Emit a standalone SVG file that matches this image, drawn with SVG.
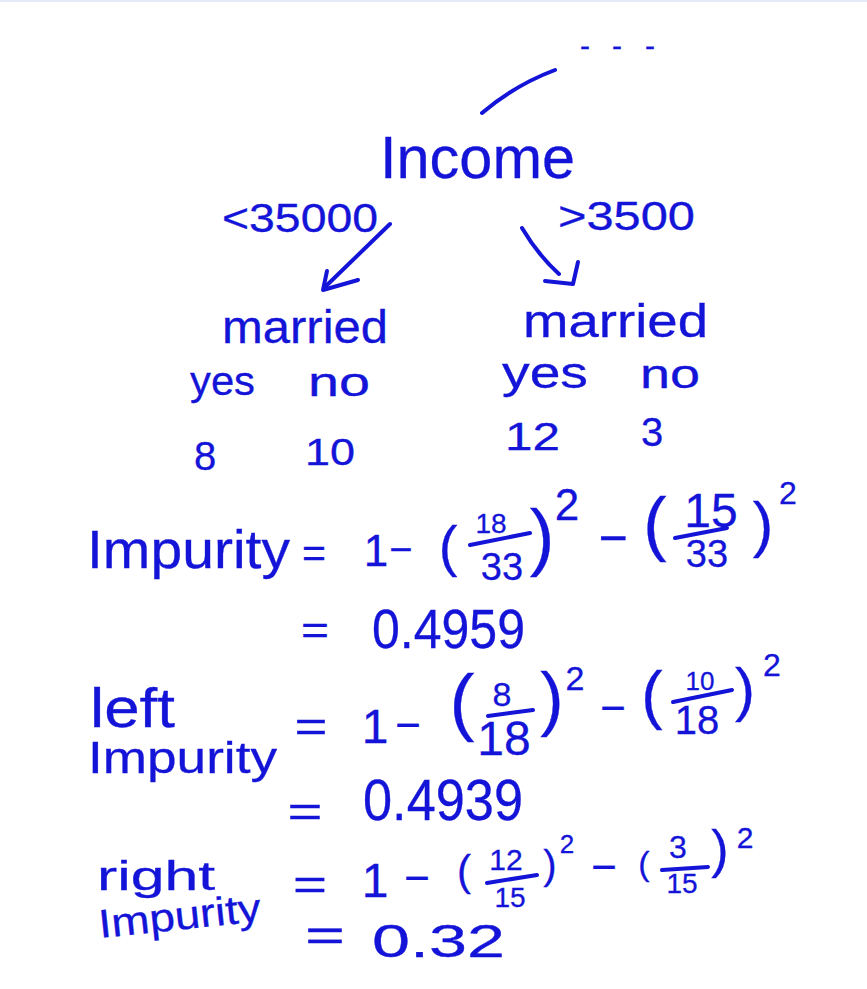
<svg xmlns="http://www.w3.org/2000/svg" width="867" height="989" viewBox="0 0 867 989">
<style>
.t{font-family:"Liberation Sans",Arial,sans-serif;fill:#1414d8;stroke:#1414d8;stroke-width:0.3}
.m{text-anchor:middle}
.ln{fill:none;stroke:#1414d8;stroke-width:4;stroke-linecap:round;stroke-linejoin:round}
</style>
<rect x="0" y="0" width="867" height="989" fill="#ffffff"/>
<rect x="0" y="0" width="867" height="2" fill="#e6eaf8"/>

<g id="dots">
<text class="t m" x="585 617 650" y="56" font-size="30">---</text>
</g>

<g id="income">
<text class="t" x="380" y="178" font-size="60" textLength="195" lengthAdjust="spacingAndGlyphs">Income</text>
</g>

<g id="branch-labels">
<text class="t" x="222" y="232" font-size="40" textLength="156" lengthAdjust="spacingAndGlyphs">&lt;35000</text>
<text class="t" x="558" y="230" font-size="40" textLength="137" lengthAdjust="spacingAndGlyphs">&gt;3500</text>
</g>

<g id="married-left">
<text class="t" x="222" y="343" font-size="46" textLength="166" lengthAdjust="spacingAndGlyphs">married</text>
<text class="t" x="190" y="395" font-size="40" textLength="65" lengthAdjust="spacingAndGlyphs">yes</text>
<text class="t" x="308" y="396" font-size="40" textLength="62" lengthAdjust="spacingAndGlyphs">no</text>
<text class="t m" x="205" y="470" font-size="40">8</text>
<text class="t" x="305" y="465" font-size="36" textLength="50" lengthAdjust="spacingAndGlyphs">10</text>
</g>

<g id="married-right">
<text class="t" x="523" y="337" font-size="46" textLength="185" lengthAdjust="spacingAndGlyphs">married</text>
<text class="t" x="502" y="388" font-size="44" textLength="86" lengthAdjust="spacingAndGlyphs">yes</text>
<text class="t" x="640" y="388" font-size="40" textLength="60" lengthAdjust="spacingAndGlyphs">no</text>
<text class="t" x="505" y="450" font-size="38" textLength="55" lengthAdjust="spacingAndGlyphs">12</text>
<text class="t m" x="652" y="446" font-size="40">3</text>
</g>

<g id="connectors">
<path class="ln" d="M482,113 Q515,85 555,70"/>
<path class="ln" d="M390,224 Q357,256 325,287"/>
<path class="ln" d="M327,271 L323,290 L358,280"/>
<path class="ln" d="M522,228 Q538,255 559,274"/>
<path class="ln" d="M578,262 L573,284 L545,281"/>
</g>

<g id="impurity">
<text class="t" x="87" y="568" font-size="54" textLength="203" lengthAdjust="spacingAndGlyphs">Impurity</text>
<text class="t m" x="314" y="567" font-size="40" textLength="24" lengthAdjust="spacingAndGlyphs">=</text>
<text class="t m" x="376" y="566" font-size="44">1</text>
<text class="t m" x="401" y="563" font-size="40">−</text>
<text class="t m" x="448" y="565" font-size="56">(</text>
<text class="t m" x="491" y="533" font-size="28">18</text>
<line class="ln" x1="470" y1="545" x2="530" y2="533"/>
<text class="t m" x="502" y="580" font-size="38">33</text>
<text class="t m" x="542" y="562" font-size="74">)</text>
<text class="t m" x="567" y="520" font-size="44">2</text>
<text class="t m" x="613" y="555" font-size="50">−</text>
<text class="t m" x="655" y="547" font-size="70">(</text>
<text class="t m" x="711" y="527" font-size="48">15</text>
<line class="ln" x1="675" y1="538" x2="727" y2="528"/>
<text class="t m" x="707" y="567" font-size="38">33</text>
<text class="t m" x="763" y="545" font-size="62">)</text>
<text class="t m" x="788" y="504" font-size="32">2</text>
<text class="t m" x="315" y="644" font-size="40" textLength="28" lengthAdjust="spacingAndGlyphs">=</text>
<text class="t" x="372" y="648" font-size="56" textLength="153" lengthAdjust="spacingAndGlyphs">0.4959</text>
</g>

<g id="left-impurity">
<text class="t" x="90" y="727" font-size="56" textLength="85" lengthAdjust="spacingAndGlyphs">left</text>
<text class="t" x="88" y="773" font-size="44" textLength="189" lengthAdjust="spacingAndGlyphs">Impurity</text>
<text class="t m" x="311" y="741" font-size="42" textLength="33" lengthAdjust="spacingAndGlyphs">=</text>
<text class="t m" x="375" y="743" font-size="48">1</text>
<text class="t m" x="408" y="740" font-size="44">−</text>
<text class="t m" x="462" y="727" font-size="75">(</text>
<text class="t m" x="502" y="706" font-size="34">8</text>
<line class="ln" x1="488" y1="716" x2="533" y2="710"/>
<text class="t m" x="504" y="755" font-size="48">18</text>
<text class="t m" x="552" y="722" font-size="70">)</text>
<text class="t m" x="575" y="690" font-size="34">2</text>
<text class="t m" x="613" y="723" font-size="44">−</text>
<text class="t m" x="652" y="717" font-size="64">(</text>
<text class="t m" x="700" y="690" font-size="26">10</text>
<line class="ln" x1="673" y1="702" x2="732" y2="690"/>
<text class="t m" x="697" y="734" font-size="40">18</text>
<text class="t m" x="745" y="710" font-size="60">)</text>
<text class="t m" x="772" y="676" font-size="32">2</text>
<text class="t m" x="305" y="826" font-size="42" textLength="35" lengthAdjust="spacingAndGlyphs">=</text>
<text class="t" x="363" y="820" font-size="58" textLength="160" lengthAdjust="spacingAndGlyphs">0.4939</text>
</g>

<g id="right-impurity">
<text class="t" x="97" y="890" font-size="40" textLength="118" lengthAdjust="spacingAndGlyphs">right</text>
<text class="t" x="100" y="938" font-size="40" textLength="163" lengthAdjust="spacingAndGlyphs" transform="rotate(-6 100 938)">Impurity</text>
<text class="t m" x="310" y="899" font-size="42" textLength="34" lengthAdjust="spacingAndGlyphs">=</text>
<text class="t m" x="375" y="897" font-size="48">1</text>
<text class="t m" x="417" y="893" font-size="44">−</text>
<text class="t m" x="464" y="885" font-size="42">(</text>
<text class="t m" x="506" y="870" font-size="30">12</text>
<line class="ln" x1="487" y1="883" x2="537" y2="875"/>
<text class="t m" x="510" y="907" font-size="28">15</text>
<text class="t m" x="550" y="879" font-size="40">)</text>
<text class="t m" x="567" y="853" font-size="26">2</text>
<text class="t m" x="604" y="882" font-size="44">−</text>
<text class="t m" x="644" y="875" font-size="34">(</text>
<text class="t m" x="678" y="858" font-size="32">3</text>
<line class="ln" x1="662" y1="870" x2="708" y2="867"/>
<text class="t m" x="682" y="893" font-size="28">15</text>
<text class="t m" x="720" y="867" font-size="52">)</text>
<text class="t m" x="745" y="848" font-size="30">2</text>
<text class="t m" x="325" y="951" font-size="44" textLength="40" lengthAdjust="spacingAndGlyphs">=</text>
<text class="t" x="372" y="957" font-size="46" textLength="133" lengthAdjust="spacingAndGlyphs">0.32</text>
</g>
</svg>
